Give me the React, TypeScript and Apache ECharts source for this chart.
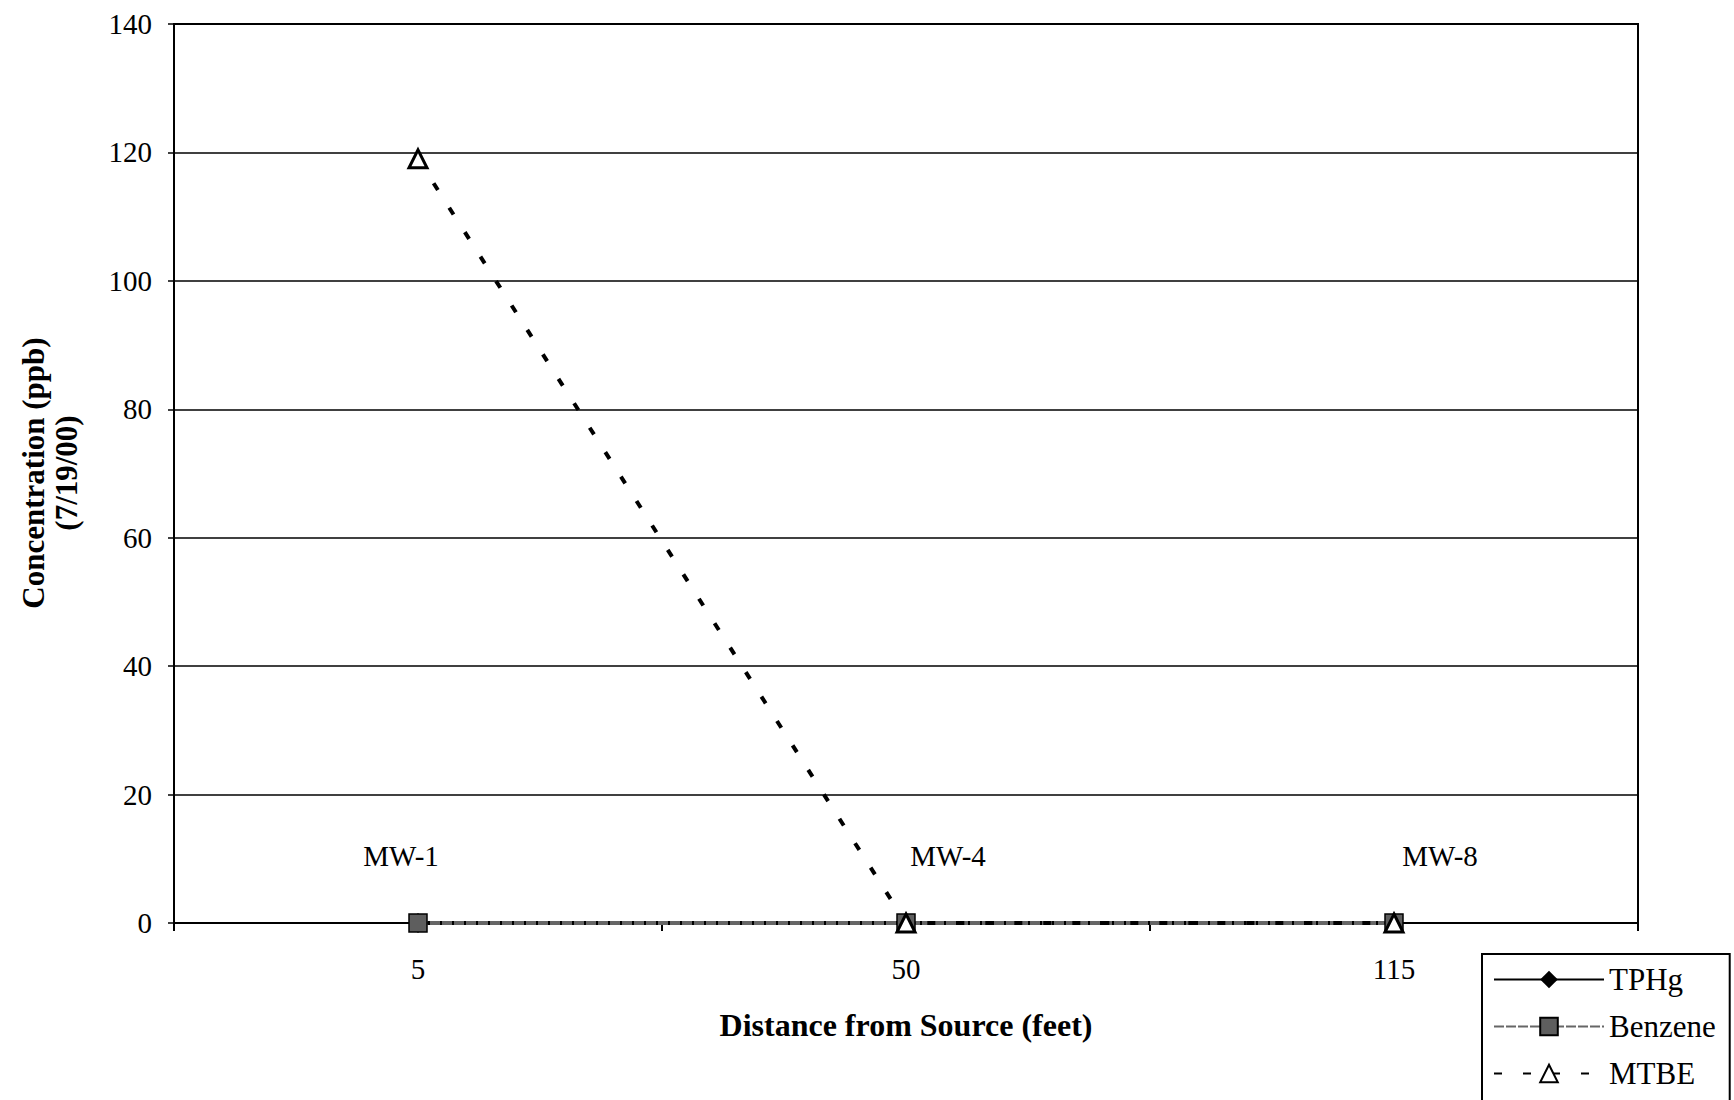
import React, { useEffect, useRef } from "react";
import * as echarts from "echarts";

const categories = ["5", "50", "115"];
const wellNames = ["MW-1", "MW-4", "MW-8"];
const tphg = [0, 0, 0];
const benzene = [0, 0, 0];
const mtbe = [119, 0, 0];
const wellLabelY = [10.5, 10.5, 10.5];
const wellLabelOffsetX = [-17, 42, 46];
const yTicks = { min: 0, max: 140, interval: 20 };

const FONT = "'Liberation Serif', 'Times New Roman', serif";

export default function App() {
  const ref = useRef<HTMLDivElement>(null);
  useEffect(() => {
    if (!ref.current) return;
    const chart = echarts.init(ref.current, undefined, { renderer: "svg" });
    chart.setOption({
      animation: false,
      backgroundColor: "#fff",
      textStyle: { fontFamily: FONT, color: "#000" },
      grid: {
        left: 174,
        right: 96,
        top: 24,
        bottom: 177,
        show: true,
        borderColor: "#000",
        borderWidth: 2,
        backgroundColor: "transparent",
      },
      xAxis: {
        type: "category",
        data: categories,
        boundaryGap: true,
        name: "Distance from Source (feet)",
        nameLocation: "middle",
        nameGap: 86,
        nameTextStyle: { fontFamily: FONT, fontSize: 32, fontWeight: "bold", color: "#000" },
        axisLine: { show: true, lineStyle: { color: "#000", width: 2 } },
        axisTick: { show: true, length: 8, lineStyle: { color: "#000", width: 2 } },
        axisLabel: { fontFamily: FONT, fontSize: 29, color: "#000", margin: 31 },
        splitLine: { show: false },
      },
      yAxis: {
        type: "value",
        min: yTicks.min,
        max: yTicks.max,
        interval: yTicks.interval,
        axisLine: { show: true, lineStyle: { color: "#000", width: 2 } },
        axisTick: { show: true, length: 6, lineStyle: { color: "#000", width: 1.5 } },
        axisLabel: { fontFamily: FONT, fontSize: 29, color: "#000", margin: 22 },
        splitLine: { show: true, lineStyle: { color: "#000", width: 1.5 } },
      },
      legend: {
        data: ["TPHg", "Benzene", "MTBE"],
        orient: "vertical",
        left: 1482,
        top: 954,
        height: 220,
        padding: [10, 14, 14, 11],
        itemWidth: 110,
        itemHeight: 22,
        itemGap: 16,
        borderColor: "#000",
        borderWidth: 2,
        backgroundColor: "#fff",
        textStyle: { fontFamily: FONT, fontSize: 31, color: "#000" },
      },
      graphic: [
        {
          type: "text",
          x: 33,
          y: 473,
          rotation: Math.PI / 2,
          style: {
            text: "Concentration (ppb)",
            fontFamily: FONT,
            fontSize: 31,
            fontWeight: "bold",
            fill: "#000",
            textAlign: "center",
            textVerticalAlign: "middle",
          },
        },
        {
          type: "text",
          x: 66,
          y: 473,
          rotation: Math.PI / 2,
          style: {
            text: "(7/19/00)",
            fontFamily: FONT,
            fontSize: 31,
            fontWeight: "bold",
            fill: "#000",
            textAlign: "center",
            textVerticalAlign: "middle",
          },
        },
      ],
      series: [
        {
          name: "TPHg",
          type: "line",
          data: tphg,
          symbol: "diamond",
          symbolSize: 20,
          itemStyle: { color: "#000" },
          lineStyle: { color: "#000", width: 4 },
        },
        {
          name: "Benzene",
          type: "line",
          data: benzene,
          symbol: "rect",
          symbolSize: 18,
          itemStyle: { color: "#5e5e5e", borderColor: "#000", borderWidth: 1.5 },
          lineStyle: { color: "#666", width: 4, type: [10, 2] },
        },
        {
          name: "MTBE",
          type: "line",
          data: mtbe,
          symbol: "triangle",
          symbolSize: 18,
          itemStyle: { color: "#fff", borderColor: "#000", borderWidth: 3 },
          lineStyle: { color: "#000", width: 4, type: [8, 21] },
        },
        {
          name: "wells",
          type: "scatter",
          symbol: "circle",
          symbolSize: 1,
          silent: true,
          itemStyle: { color: "rgba(0,0,0,0)" },
          data: wellNames.map((n, i) => ({
            value: [i, wellLabelY[i]],
            label: {
              show: true,
              formatter: n,
              position: "inside",
              offset: [wellLabelOffsetX[i], 0],
              fontFamily: FONT,
              fontSize: 29,
              color: "#000",
              textBorderWidth: 0,
              opacity: 1,
            },
          })),
        },
      ],
    });
    return () => chart.dispose();
  }, []);
  return <div ref={ref} style={{ width: 1734, height: 1100, position: "absolute", left: 0, top: 0 }} />;
}
